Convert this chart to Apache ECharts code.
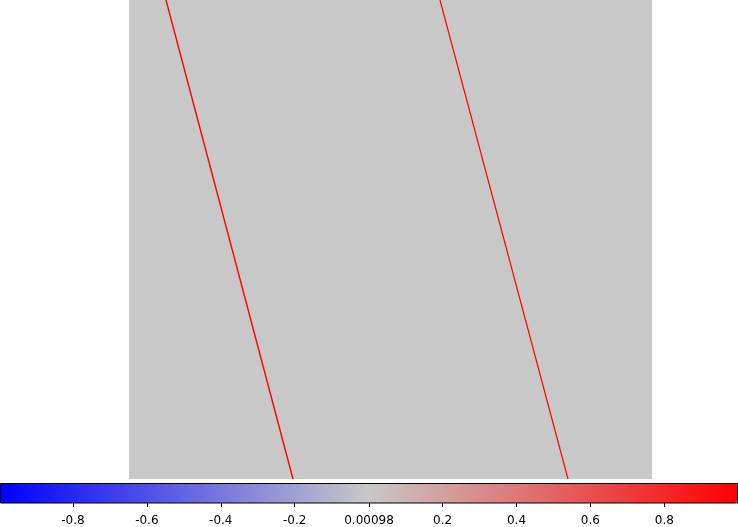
<!DOCTYPE html>
<html><head><meta charset="utf-8">
<script src="https://cdn.jsdelivr.net/npm/echarts@6/dist/echarts.min.js"></script>
<style>html,body{margin:0;padding:0;background:#fff}#c{width:738px;height:527px}</style>
</head><body><div id="c"></div>
<script>
// Matrix extent (columns x rows)
const nCols = 523;
const nRows = 479;
// Two diagonal bands of value ~1: [column, row] at top and bottom rows
const bandA = [[37, 0], [164, 479]];
const bandB = [[311, 0], [439, 479]];
// Colour scale
const scaleMin = -0.996;
const scaleMax = 0.998;
const scaleTicks = [-0.8, -0.6, -0.4, -0.2, 0.00098, 0.2, 0.4, 0.6, 0.8];
const scaleColors = ['#0000ff', '#c8c8c8', '#ff0000'];

const chart = echarts.init(document.getElementById('c'), null, {renderer: 'canvas'});
chart.setOption({
  animation: false,
  backgroundColor: '#ffffff',
  grid: [
    {left: 129, top: 0, width: nCols, height: nRows, show: true, backgroundColor: scaleColors[1], borderWidth: 0},
    {left: 0.5, top: 483.5, width: 737, height: 20, show: true, backgroundColor: 'transparent', borderColor: '#000', borderWidth: 1, z: 10}
  ],
  xAxis: [
    {gridIndex: 0, type: 'value', min: 0, max: nCols, show: false},
    {gridIndex: 1, type: 'value', min: scaleMin, max: scaleMax, position: 'bottom',
     axisLine: {show: false}, splitLine: {show: false},
     axisTick: {show: true, length: 4, lineStyle: {color: '#000'}, customValues: scaleTicks},
     axisLabel: {show: true, color: '#000', fontSize: 12, fontFamily: 'DejaVu Sans', margin: 12,
       customValues: scaleTicks, formatter: v => String(v)}}
  ],
  yAxis: [
    {gridIndex: 0, type: 'value', min: 0, max: nRows, inverse: true, show: false},
    {gridIndex: 1, type: 'value', min: 0, max: 1, show: false}
  ],
  visualMap: {
    type: 'continuous', min: scaleMin, max: scaleMax, orient: 'horizontal',
    left: 0, top: 483, itemWidth: 20, itemHeight: 737, padding: 0,
    calculable: false, showLabel: false, text: null, seriesIndex: [],
    inRange: {color: scaleColors}
  },
  series: [
    {type: 'line', xAxisIndex: 0, yAxisIndex: 0, data: bandA, symbol: 'none',
     lineStyle: {color: '#ff0000', width: 1.4}, silent: true},
    {type: 'line', xAxisIndex: 0, yAxisIndex: 0, data: bandB, symbol: 'none',
     lineStyle: {color: '#ff0000', width: 1.2}, silent: true}
  ]
});
</script></body></html>
